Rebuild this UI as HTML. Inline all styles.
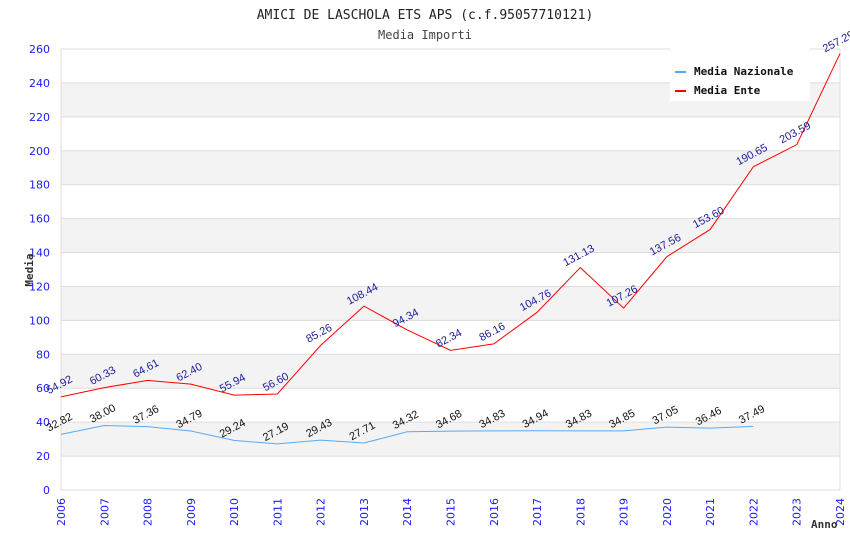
<!DOCTYPE html>
<html><head><meta charset="utf-8"><style>
body{margin:0;background:#fff}
svg text{font-family:"DejaVu Sans","Liberation Sans",sans-serif}
.mono{font-family:"DejaVu Sans Mono","Liberation Mono",monospace}
.lbl{font-family:"Liberation Sans",Arial,sans-serif}
</style></head><body>
<svg id="c" width="850" height="550" xmlns="http://www.w3.org/2000/svg">
<text class="mono" x="425" y="19" text-anchor="middle" font-size="13" fill="#222">AMICI DE LASCHOLA ETS APS (c.f.95057710121)</text>
<text class="mono" x="425" y="39" text-anchor="middle" font-size="12" fill="#444">Media Importi</text>
<g id="bands"></g><g id="grid"></g><g id="axes"></g><g id="series"></g>
<text class="mono" x="33" y="270" transform="rotate(-90 33 270)" text-anchor="middle" font-size="11" font-weight="bold" fill="#333">Media</text>
<text class="mono" x="811" y="528" font-size="11" font-weight="bold" fill="#333">Anno</text>
<g>
<rect x="670" y="48" width="140" height="53" fill="#fff"/>
<rect x="675" y="71" width="11" height="2" fill="#5aa9f0"/>
<text class="mono" x="694" y="75" font-size="11" font-weight="bold" fill="#111">Media Nazionale</text>
<rect x="675" y="90" width="11" height="2" fill="#f00"/>
<text class="mono" x="694" y="94" font-size="11" font-weight="bold" fill="#111">Media Ente</text>
</g>
</svg>
<script>
const years=[2006,2007,2008,2009,2010,2011,2012,2013,2014,2015,2016,2017,2018,2019,2020,2021,2022,2023,2024];
const ente=[54.92,60.33,64.61,62.40,55.94,56.60,85.26,108.44,94.34,82.34,86.16,104.76,131.13,107.26,137.56,153.60,190.65,203.59,257.29];
const nazionale=[32.82,38.00,37.36,34.79,29.24,27.19,29.43,27.71,34.32,34.68,34.83,34.94,34.83,34.85,37.05,36.46,37.49];
const yTicks=[0,20,40,60,80,100,120,140,160,180,200,220,240,260];
const NS="http://www.w3.org/2000/svg";
const X0=61,X1=840,Y0=490,Y1=49,YMAX=260;
const xs=i=>X0+(X1-X0)*i/(years.length-1);
const ys=v=>Y0-(Y0-Y1)*v/YMAX;
function mk(t,a,p){const e=document.createElementNS(NS,t);for(const k in a)e.setAttribute(k,a[k]);p.appendChild(e);return e;}
const bands=document.getElementById('bands'),grid=document.getElementById('grid'),axes=document.getElementById('axes'),ser=document.getElementById('series');
for(let i=0;i<yTicks.length-1;i++){if(i%2===1){const r=mk('rect',{x:X0,y:ys(yTicks[i+1]),width:X1-X0,height:ys(yTicks[i])-ys(yTicks[i+1]),fill:'#f3f3f3'},bands);

}}
yTicks.forEach(v=>{const l=mk('line',{x1:X0,x2:X1,y1:ys(v),y2:ys(v),stroke:'#ddd'},grid);


const t=mk('text',{x:50,y:ys(v)+4,'text-anchor':'end','font-size':11,fill:'#1a1aff'},axes);t.textContent=v;

});
mk('line',{x1:X0,x2:X0,y1:Y1,y2:Y0,stroke:'#ddd'},axes);mk('line',{x1:X1,x2:X1,y1:Y1,y2:Y0,stroke:'#ddd'},axes);
years.forEach((y,i)=>{const x=xs(i)+4,yy=498;const t=mk('text',{x:x,y:yy,transform:`rotate(-90 ${x} ${yy})`,'text-anchor':'end','font-size':11,fill:'#1a1aff'},axes);t.textContent=y;

});
function series(vals,color,lblColor,name){
const pts=vals.map((v,i)=>xs(i)+','+ys(v)).join(' ');
const p=mk('polyline',{points:pts,fill:'none',stroke:color,'stroke-width':1},ser);


vals.forEach((v,i)=>{const x=xs(i),y=ys(v)-9;const t=mk('text',{class:'lbl',x:x,y:y,transform:`rotate(-28 ${x} ${y})`,'text-anchor':'middle','font-size':11,fill:lblColor},ser);t.textContent=v.toFixed(2);

});}
series(nazionale,'#5aa9f0','#111','nazionale');
series(ente,'#f00','#1a1a99','ente');
</script>
</body></html>
